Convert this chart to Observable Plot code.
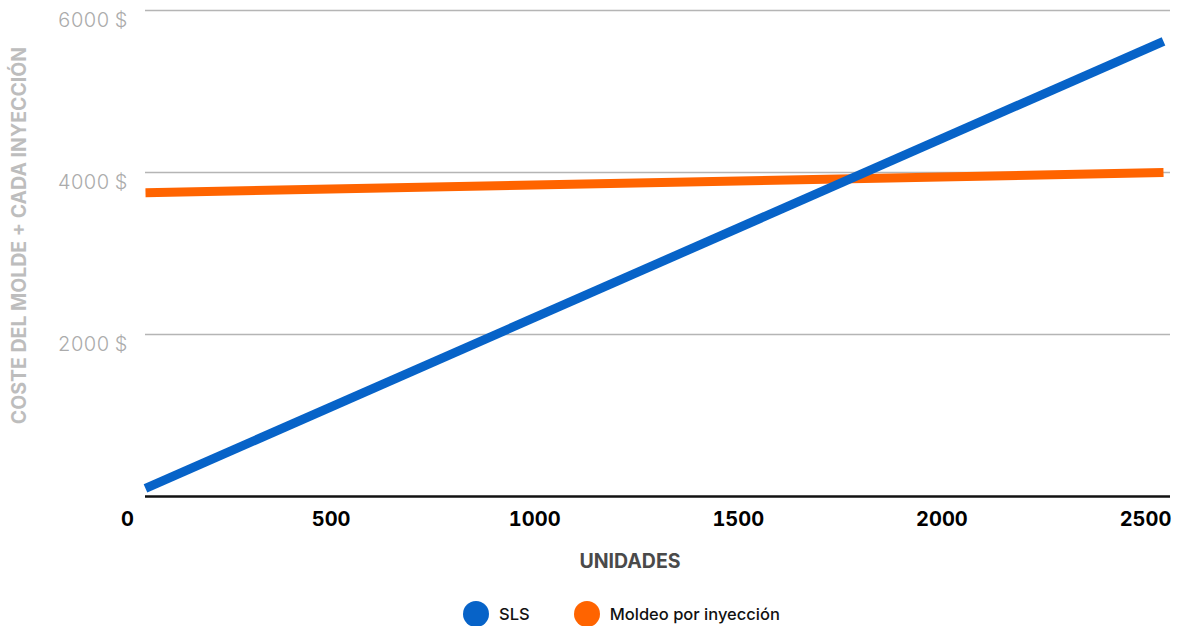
<!DOCTYPE html>
<html>
<head>
<meta charset="utf-8">
<script src="https://cdn.jsdelivr.net/npm/d3@7"></script>
<script src="https://cdn.jsdelivr.net/npm/@observablehq/plot@0.6"></script>
<style>
  html, body { margin: 0; padding: 0; background: #fff; }
  body { width: 1183px; height: 626px; overflow: hidden; font-family: Inter, "Open Sans", sans-serif; }
  #legend { display: flex; justify-content: center; align-items: center; height: 36px; margin-top: 6px; padding-left: 60px; box-sizing: border-box; width: 1183px; }
  .item { display: flex; align-items: center; margin: 0 22px; font-size: 16.5px; font-weight: 500; color: #111; }
  .dot { width: 26px; height: 26px; border-radius: 50%; margin-right: 10px; }
</style>
</head>
<body>
<div id="chart"></div>
<div id="legend"></div>
<script>
// Data
const units = [0, 2500];
const slsCost = [100, 5620];
const moldeoCost = [3750, 4000];
const seriesNames = ["SLS", "Moldeo por inyección"];
const seriesColors = ["#0763c8", "#ff6400"];
const xTicks = [0, 500, 1000, 1500, 2000, 2500];
const yTicks = [2000, 4000, 6000];
const yTitle = "COSTE DEL MOLDE + CADA INYECCIÓN";
const xTitle = "UNIDADES";

const slsData = units.map((u, i) => ({x: u, y: slsCost[i]}));
const moldeoData = units.map((u, i) => ({x: u, y: moldeoCost[i]}));

const chart = Plot.plot({
  width: 1183,
  height: 590,
  marginLeft: 145,
  marginRight: 13,
  marginTop: 10,
  marginBottom: 94,
  style: {fontFamily: "Inter, 'Open Sans', sans-serif", background: "#fff"},
  x: {domain: [0, 2500], insetRight: 7},
  y: {domain: [0, 6000]},
  marks: [
    Plot.ruleY(yTicks, {stroke: "#b5b5b5", strokeWidth: 1.3}),
    Plot.axisY(yTicks, {
      tickSize: 0, tickPadding: 18, label: null,
      tickFormat: d => `${d} $`,
      fontSize: 20, fontWeight: 300, fill: "#ababab", dy: 10
    }),
    Plot.axisX(xTicks, {
      tickSize: 0, tickPadding: 15, label: null,
      tickFormat: d => `${d}`,
      fontSize: 20, fontWeight: 700, fill: "#000", dx: -18
    }),
    Plot.line(moldeoData, {x: "x", y: "y", stroke: seriesColors[1], strokeWidth: 9, strokeLinecap: "butt"}),
    Plot.line(slsData, {x: "x", y: "y", stroke: seriesColors[0], strokeWidth: 9, strokeLinecap: "butt"}),
    Plot.ruleY([0], {stroke: "#111", strokeWidth: 2.5}),
    Plot.text([yTitle], {
      frameAnchor: "left", textAnchor: "middle", rotate: -90, dx: -126, dy: -18,
      fontSize: 19.5, fontWeight: 700, fill: "#bdbdbd"
    }),
    Plot.text([xTitle], {
      frameAnchor: "bottom", dx: -28, dy: 71,
      fontSize: 19.5, fontWeight: 700, fill: "#4a4a4a"
    })
  ]
});
document.getElementById("chart").appendChild(chart);

const legend = document.getElementById("legend");
seriesNames.forEach((name, i) => {
  const item = document.createElement("div");
  item.className = "item";
  const dot = document.createElement("span");
  dot.className = "dot";
  dot.style.background = seriesColors[i];
  const label = document.createElement("span");
  label.textContent = name;
  item.appendChild(dot);
  item.appendChild(label);
  legend.appendChild(item);
});
</script>
</body>
</html>
